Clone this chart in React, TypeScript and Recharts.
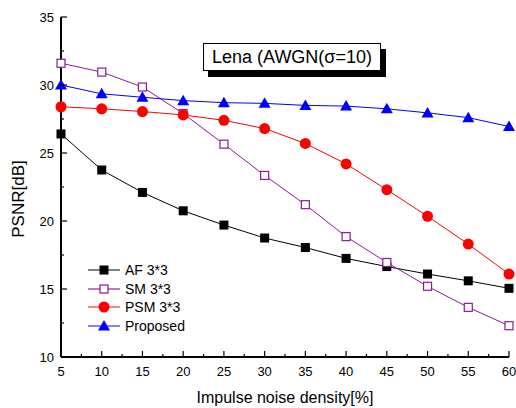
import React from 'react';
import { Legend, Line, LineChart, XAxis, YAxis } from 'recharts';

const density = [5, 10, 15, 20, 25, 30, 35, 40, 45, 50, 55, 60];
const afValues = [26.4, 23.75, 22.1, 20.75, 19.7, 18.75, 18.05, 17.25, 16.65, 16.1, 15.6, 15.05];
const smValues = [31.6, 30.95, 29.85, 27.9, 25.65, 23.35, 21.2, 18.85, 16.95, 15.2, 13.65, 12.3];
const psmValues = [28.4, 28.25, 28.05, 27.8, 27.4, 26.8, 25.7, 24.2, 22.3, 20.35, 18.3, 16.1];
const proposedValues = [30.0, 29.35, 29.1, 28.85, 28.7, 28.65, 28.5, 28.45, 28.25, 27.95, 27.6, 26.95];

const xTicks = [5, 7.5, 10, 12.5, 15, 17.5, 20, 22.5, 25, 27.5, 30, 32.5, 35, 37.5, 40, 42.5, 45, 47.5, 50, 52.5, 55, 57.5, 60];
const yTicks = [10, 12.5, 15, 17.5, 20, 22.5, 25, 27.5, 30, 32.5, 35];

const chartData = density.map((d, i) => ({
    density: d,
    af: afValues[i],
    sm: smValues[i],
    psm: psmValues[i],
    proposed: proposedValues[i],
}));

const FONT = '"Liberation Sans", Arial, sans-serif';

const isMajor = (v: number) => v % 5 === 0;

//@ts-ignore
const BottomTick = ({ x, y, payload }) => {
    const major = isMajor(payload.value);
    return (
        <g>
            <line x1={x} x2={x} y1={y} y2={y - (major ? 6 : 3)} stroke="#000" strokeWidth={1.2} />
            {major && (
                <text x={x} y={y + 19} textAnchor="middle" fontSize={13} fontFamily={FONT} fill="#000">
                    {payload.value}
                </text>
            )}
        </g>
    );
};

//@ts-ignore
const TopTick = ({ x, y, payload }) => {
    const major = isMajor(payload.value);
    return <line x1={x} x2={x} y1={y} y2={y + (major ? 6 : 3)} stroke="#000" strokeWidth={1.2} />;
};

//@ts-ignore
const LeftTick = ({ x, y, payload }) => {
    const major = isMajor(payload.value);
    return (
        <g>
            <line x1={x} x2={x + (major ? 6 : 3)} y1={y} y2={y} stroke="#000" strokeWidth={1.2} />
            {major && (
                <text x={x - 7} y={y + 5} textAnchor="end" fontSize={13} fontFamily={FONT} fill="#000">
                    {payload.value}
                </text>
            )}
        </g>
    );
};

//@ts-ignore
const RightTick = ({ x, y, payload }) => {
    const major = isMajor(payload.value);
    return <line x1={x} x2={x - (major ? 6 : 3)} y1={y} y2={y} stroke="#000" strokeWidth={1.2} />;
};

//@ts-ignore
const YLabel = ({ viewBox }) => {
    const cy = viewBox.y + viewBox.height / 2 + 12;
    return (
        <text x={24} y={cy} transform={`rotate(-90, 24, ${cy})`} textAnchor="middle" fontSize={17} fontFamily={FONT} fill="#000">
            PSNR[dB]
        </text>
    );
};

//@ts-ignore
const XLabel = ({ viewBox }) => (
    <text x={viewBox.x + viewBox.width / 2} y={403} textAnchor="middle" fontSize={16} fontFamily={FONT} fill="#000">
        Impulse noise density[%]
    </text>
);

const marker = (key: string, cx: number, cy: number, color: string) => {
    if (key === 'af') return <rect x={cx - 4.5} y={cy - 4.5} width={9} height={9} fill={color} />;
    if (key === 'sm') return <rect x={cx - 4} y={cy - 4} width={8} height={8} fill="#fff" stroke={color} strokeWidth={1.2} />;
    if (key === 'psm') return <circle cx={cx} cy={cy} r={5.5} fill={color} />;
    return <polygon points={`${cx},${cy - 6} ${cx + 6},${cy + 4.5} ${cx - 6},${cy + 4.5}`} fill={color} />;
};

const makeDot = (key: string, color: string) => {
    //@ts-ignore
    return ({ cx, cy, index }) => <g key={`${key}-${index}`}>{marker(key, cx, cy, color)}</g>;
};

const series = [
    { key: 'af', name: 'AF 3*3', color: '#000000', legendLine: '#555555' },
    { key: 'sm', name: 'SM 3*3', color: '#8b1a9b', legendLine: '#a64fb0' },
    { key: 'psm', name: 'PSM 3*3', color: '#ff0000', legendLine: '#ff5a5a' },
    { key: 'proposed', name: 'Proposed', color: '#0000ff', legendLine: '#5a5aff' },
];

const renderLegend = () => (
    <div style={{ fontFamily: FONT, fontSize: 14 }}>
        {series.map((s) => (
            <div key={s.key} style={{ display: 'flex', alignItems: 'center', height: 18.5 }}>
                <svg width={36} height={14}>
                    <line x1={2} x2={34} y1={7} y2={7} stroke={s.legendLine} strokeWidth={1.5} />
                    {marker(s.key, 18, 7, s.color)}
                </svg>
                <span style={{ marginLeft: 3 }}>{s.name}</span>
            </div>
        ))}
    </div>
);

export default function App() {
    return (
        <div style={{ position: 'absolute', left: 0, top: 0, width: 516, height: 408, background: '#fff' }}>
            <LineChart width={516} height={408} data={chartData} margin={{ top: 17, right: 7, left: 0, bottom: 0 }}>
                <XAxis
                    dataKey="density"
                    type="number"
                    domain={[5, 60]}
                    ticks={xTicks}
                    interval={0}
                    height={51}
                    tickSize={0}
                    tickMargin={0}
                    tick={BottomTick}
                    axisLine={{ stroke: '#000', strokeWidth: 2 }}
                    label={<XLabel viewBox={{ x: 0, y: 0, width: 0, height: 0 }} />}
                />
                <XAxis
                    xAxisId="top"
                    orientation="top"
                    type="number"
                    domain={[5, 60]}
                    allowDataOverflow
                    ticks={xTicks}
                    interval={0}
                    height={0}
                    tickSize={0}
                    tickMargin={0}
                    tick={TopTick}
                    axisLine={{ stroke: '#000', strokeWidth: 1.5 }}
                />
                <YAxis
                    type="number"
                    domain={[10, 35]}
                    ticks={yTicks}
                    interval={0}
                    width={61}
                    tickSize={0}
                    tickMargin={0}
                    tick={LeftTick}
                    axisLine={{ stroke: '#000', strokeWidth: 2 }}
                    label={<YLabel viewBox={{ x: 0, y: 0, width: 0, height: 0 }} />}
                />
                <YAxis
                    yAxisId="right"
                    orientation="right"
                    type="number"
                    domain={[10, 35]}
                    allowDataOverflow
                    ticks={yTicks}
                    interval={0}
                    width={0}
                    tickSize={0}
                    tickMargin={0}
                    tick={RightTick}
                    axisLine={{ stroke: '#000', strokeWidth: 1.5 }}
                />
                {series.map((s) => (
                    <Line
                        key={s.key}
                        dataKey={s.key}
                        name={s.name}
                        stroke={s.color}
                        strokeWidth={1}
                        dot={makeDot(s.key, s.color)}
                        activeDot={false}
                        isAnimationActive={false}
                    />
                ))}
                <Legend
                    layout="vertical"
                    align="center"
                    verticalAlign="middle"
                    content={renderLegend}
                    wrapperStyle={{ left: 86, top: 261, width: 140, height: 80 }}
                />
            </LineChart>
            <div
                style={{
                    position: 'absolute',
                    left: 203,
                    top: 43,
                    width: 176,
                    height: 26,
                    border: '1px solid #000',
                    boxShadow: '5px 6px 0 #000',
                    background: '#fff',
                    fontFamily: FONT,
                    fontSize: 18,
                    lineHeight: '27px',
                    textAlign: 'center',
                    whiteSpace: 'nowrap',
                }}
            >
                Lena (AWGN(σ=10)
            </div>
        </div>
    );
}
